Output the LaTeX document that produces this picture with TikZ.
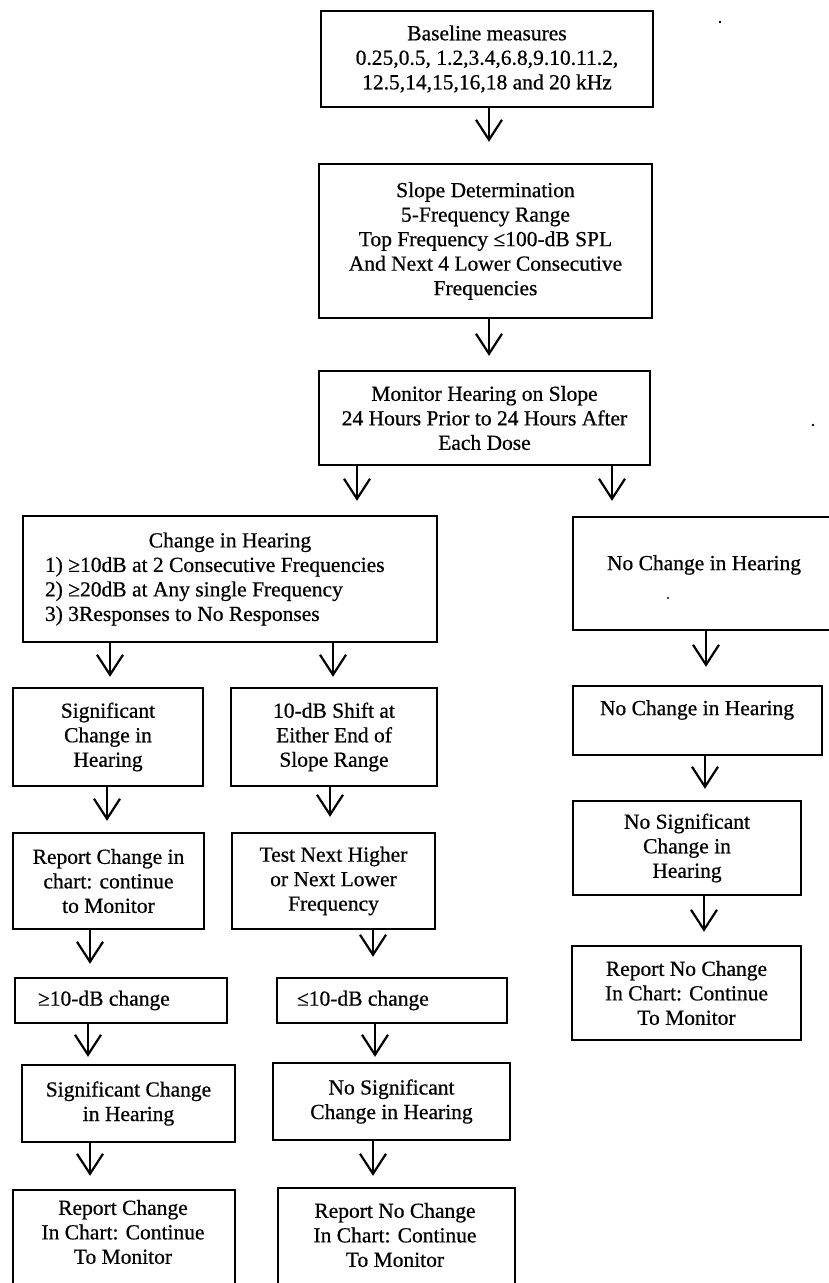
\documentclass[tikz,border=0pt]{standalone}
\usepackage{fontspec}
\setmainfont{Liberation Serif}[FakeBold=0.6]
\usetikzlibrary{arrows.meta}
\begin{document}
\begin{tikzpicture}[x=1pt,y=-1pt,
  lbl/.style={font=\fontsize{21.5}{24.5}\selectfont},
  box/.style={lbl, draw, line width=2.4pt, rectangle, inner sep=0pt, align=center},
  txt/.style={lbl, inner sep=0pt, align=center},
  arr/.style={line width=1.8pt, -{Straight Barb[length=20pt,width=26pt,line width=2.2pt]}}]
\useasboundingbox (0,0) rectangle (829,1283);

% central column
\node[box, minimum width=332pt, minimum height=96pt] (b1) at (487,59)
  {Baseline measures\\0.25,0.5, 1.2,3.4,6.8,9.10.11.2,\\12.5,14,15,16,18 and 20 kHz};
\node[box, minimum width=333pt, minimum height=154pt] (b2) at (485.5,241)
  {Slope Determination\\5-Frequency Range\\Top Frequency ≤100-dB SPL\\And Next 4 Lower Consecutive\\Frequencies};
\node[box, minimum width=331pt, minimum height=94pt] (b3) at (484.5,418)
  {Monitor Hearing on Slope\\24 Hours Prior to 24 Hours After\\Each Dose};

% change branch
\node[box, minimum width=414pt, minimum height=126pt, text width=370pt, align=flush left] (ch) at (230,579)
  {{\centering Change in Hearing\par}1) ≥10dB at 2 Consecutive Frequencies\\2) ≥20dB at Any single Frequency\\3) 3Responses to No Responses};

\node[box, minimum width=190pt, minimum height=98pt] (sc1) at (108,737) {Significant\\Change in\\Hearing};
\node[box, minimum width=206pt, minimum height=98pt] (sh) at (334,737) {10-dB Shift at\\Either End of\\Slope Range};
\node[box, minimum width=191pt, minimum height=96pt] (rc) at (108.5,881) {Report Change in\\chart: continue\\to Monitor};
\node[box, minimum width=203pt, minimum height=96pt] (tn) at (333.5,881) {Test Next Higher\\or Next Lower\\Frequency};
\node[box, minimum width=212pt, minimum height=45pt, text width=166pt, align=flush left] (ge) at (121,1000.5) {≥10-dB change};
\node[box, minimum width=230pt, minimum height=45pt, text width=190pt, align=flush left] (le) at (392,1000.5) {≤10-dB change};
\node[box, minimum width=213pt, minimum height=77pt] (sc2) at (128.5,1103.5) {Significant Change\\in Hearing};
\node[box, minimum width=237pt, minimum height=77pt] (ns2) at (391.5,1101.5) {No Significant\\Change in Hearing};
\node[box, minimum width=222pt, minimum height=110pt] (rc2) at (124,1245) {};
\node[txt] (rc2t) at (123,1232) {Report Change\\In Chart: Continue\\To Monitor};
\node[box, minimum width=237pt, minimum height=112pt] (rn) at (396.5,1244) {};
\node[txt] (rnt) at (395,1235) {Report No Change\\In Chart: Continue\\To Monitor};

% no-change branch
\node[box, minimum width=259pt, minimum height=113pt] (nc1) at (702.5,573.5) {};
\node[txt] (nc1t) at (704,565) {No Change in Hearing};
\node[box, minimum width=249pt, minimum height=69pt] (nc2) at (697.5,720.5) {};
\node[txt] (nc2t) at (697,710) {No Change in Hearing};
\node[box, minimum width=228pt, minimum height=94pt] (nc3) at (687,848) {No Significant\\Change in\\Hearing};
\node[box, minimum width=229pt, minimum height=94pt] (nc4) at (686.5,993) {Report No Change\\In Chart: Continue\\To Monitor};

% x positions of the connector shafts
\coordinate (x1) at (489,0);
\coordinate (x2) at (489,0);
\coordinate (x3) at (357,0);
\coordinate (x4) at (612,0);
\coordinate (x5) at (110,0);
\coordinate (x6) at (333,0);
\coordinate (x7) at (107,0);
\coordinate (x8) at (330,0);
\coordinate (x9) at (90,0);
\coordinate (x10) at (373,0);
\coordinate (x11) at (88,0);
\coordinate (x12) at (375,0);
\coordinate (x13) at (90,0);
\coordinate (x14) at (373,0);
\coordinate (x15) at (706,0);
\coordinate (x16) at (705,0);
\coordinate (x17) at (704,0);

\draw[arr, shorten >=21pt] (b1.south -| x1) -- (b2.north -| x1);
\draw[arr, shorten >=14pt] (b2.south -| x2) -- (b3.north -| x2);
\draw[arr, shorten >=14pt] (b3.south -| x3) -- (ch.north -| x3);
\draw[arr, shorten >=15pt] (b3.south -| x4) -- (nc1.north -| x4);
\draw[arr, shorten >=10pt] (ch.south -| x5) -- (sc1.north -| x5);
\draw[arr, shorten >=10pt] (ch.south -| x6) -- (sh.north -| x6);
\draw[arr, shorten >=11pt] (sc1.south -| x7) -- (rc.north -| x7);
\draw[arr, shorten >=15pt] (sh.south -| x8) -- (tn.north -| x8);
\draw[arr, shorten >=13pt] (rc.south -| x9) -- (ge.north -| x9);
\draw[arr, shorten >=20pt] (tn.south -| x10) -- (le.north -| x10);
\draw[arr, shorten >=7pt] (ge.south -| x11) -- (sc2.north -| x11);
\draw[arr, shorten >=5pt] (le.south -| x12) -- (ns2.north -| x12);
\draw[arr, shorten >=13pt] (sc2.south -| x13) -- (rc2.north -| x13);
\draw[arr, shorten >=11pt] (ns2.south -| x14) -- (rn.north -| x14);
\draw[arr, shorten >=18pt] (nc1.south -| x15) -- (nc2.north -| x15);
\draw[arr, shorten >=11pt] (nc2.south -| x16) -- (nc3.north -| x16);
\draw[arr, shorten >=13pt] (nc3.south -| x17) -- (nc4.north -| x17);

% stray specks
\fill (720,22) circle (1.3pt);
\fill (813,425) circle (1.3pt);
\fill (668,598) circle (1.1pt);
\end{tikzpicture}
\end{document}
